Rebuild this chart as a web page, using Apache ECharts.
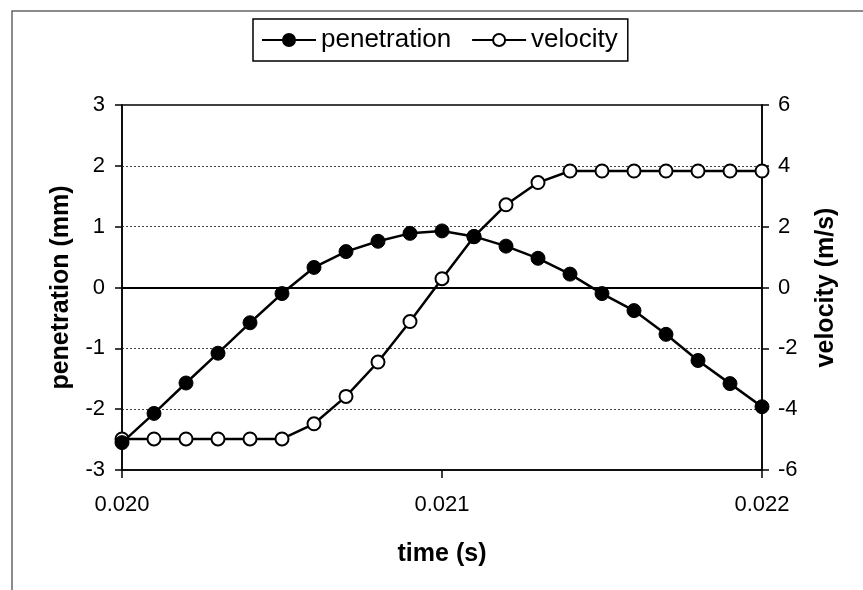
<!DOCTYPE html>
<html>
<head>
<meta charset="utf-8">
<script src="https://cdn.jsdelivr.net/npm/echarts@6/dist/echarts.min.js"></script>
<style>
html,body{margin:0;padding:0;background:#fff;}
#chart{width:863px;height:590px;}
</style>
</head>
<body>
<div id="chart"></div>
<script>
var time = [0.0200,0.0201,0.0202,0.0203,0.0204,0.0205,0.0206,0.0207,0.0208,0.0209,0.0210,0.0211,0.0212,0.0213,0.0214,0.0215,0.0216,0.0217,0.0218,0.0219,0.0220];
var penetration = [-2.55,-2.07,-1.57,-1.08,-0.58,-0.10,0.33,0.59,0.76,0.89,0.93,0.84,0.68,0.48,0.22,-0.10,-0.38,-0.77,-1.20,-1.58,-1.96];
var velocity = [-4.98,-4.98,-4.98,-4.98,-4.98,-4.98,-4.48,-3.58,-2.45,-1.12,0.29,1.67,2.72,3.45,3.83,3.83,3.83,3.83,3.83,3.83,3.83];
var xTicks = ['0.020','0.021','0.022'];

function pairs(xs, ys){ return xs.map(function(x,i){ return [x, ys[i]]; }); }

var FONT = '"Liberation Sans", Arial, sans-serif';
var chart = echarts.init(document.getElementById('chart'), null, {renderer:'canvas'});
chart.setOption({
  animation:false,
  backgroundColor:'#fff',
  textStyle:{fontFamily:FONT, color:'#000'},
  graphic:[{type:'rect', shape:{x:12, y:11, width:900, height:700}, style:{fill:'none', stroke:'#666', lineWidth:1.5}, silent:true, z:-1}],
  legend:{
    top:19, left:253, padding:[8,10,8,8],
    borderColor:'#000', borderWidth:1.5,
    itemWidth:54, itemHeight:15, itemGap:20,
    textStyle:{fontSize:26, fontFamily:FONT, color:'#000'},
    data:['penetration','velocity']
  },
  grid:{left:122, right:101, top:105, bottom:120, show:true, borderColor:'#000', borderWidth:1.5},
  xAxis:{
    type:'value', min:0.020, max:0.022, interval:0.001,
    name:'time (s)', nameLocation:'middle', nameGap:72,
    nameTextStyle:{fontSize:25, fontWeight:'bold', fontFamily:FONT, color:'#000'},
    axisLine:{show:true, onZero:false, lineStyle:{color:'#000', width:1.5}},
    axisTick:{show:true, inside:false, length:8, lineStyle:{color:'#000', width:1.5}},
    axisLabel:{fontSize:22, color:'#000', margin:24, fontFamily:FONT,
      formatter:function(v){ var i=Math.round((v-0.020)/0.001); return xTicks[i]!==undefined?xTicks[i]:''; }},
    splitLine:{show:false}
  },
  yAxis:[{
    type:'value', min:-3, max:3, interval:1, position:'left',
    name:'penetration (mm)', nameLocation:'middle', nameGap:48, nameRotate:90,
    nameTextStyle:{fontSize:25, fontWeight:'bold', fontFamily:FONT, color:'#000'},
    axisLine:{show:true, onZero:false, lineStyle:{color:'#000', width:1.5}},
    axisTick:{show:true, inside:false, length:7, lineStyle:{color:'#000', width:1.5}},
    axisLabel:{fontSize:22, color:'#000', margin:17, fontFamily:FONT},
    splitLine:{show:true, lineStyle:{color:'#444', type:[2,2], width:1}}
  },{
    type:'value', min:-6, max:6, interval:2, position:'right',
    name:'velocity (m/s)', nameLocation:'middle', nameGap:52, nameRotate:90,
    nameTextStyle:{fontSize:25, fontWeight:'bold', fontFamily:FONT, color:'#000'},
    axisLine:{show:true, onZero:false, lineStyle:{color:'#000', width:1.5}},
    axisTick:{show:true, inside:false, length:7, lineStyle:{color:'#000', width:1.5}},
    axisLabel:{fontSize:22, color:'#000', margin:16, fontFamily:FONT},
    splitLine:{show:false}
  }],
  series:[{
    name:'penetration', type:'line', yAxisIndex:0,
    data:pairs(time, penetration),
    symbol:'circle', symbolSize:14,
    lineStyle:{color:'#000', width:2.5},
    itemStyle:{color:'#000', borderColor:'#000', borderWidth:1},
    markLine:{silent:true, symbol:'none', label:{show:false},
      lineStyle:{color:'#000', type:'solid', width:2},
      data:[{yAxis:0}]},
    z:3
  },{
    name:'velocity', type:'line', yAxisIndex:1,
    data:pairs(time, velocity),
    symbol:'circle', symbolSize:13,
    lineStyle:{color:'#000', width:2.5},
    itemStyle:{color:'#fff', borderColor:'#000', borderWidth:2},
    z:2
  }]
});
</script>
</body>
</html>
